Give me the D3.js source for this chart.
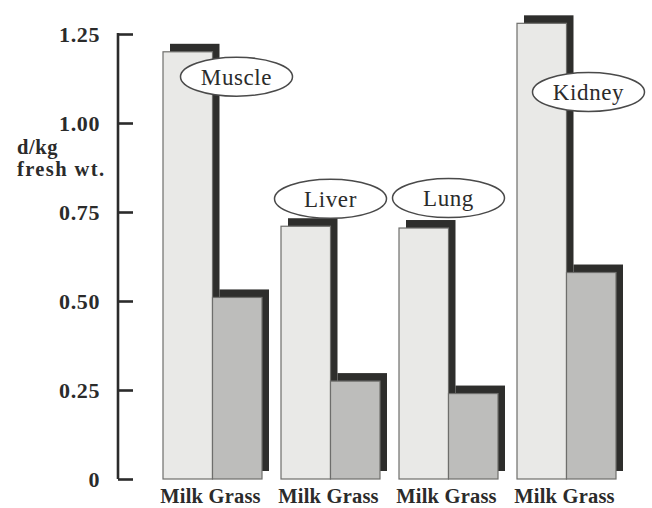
<!DOCTYPE html>
<html>
<head>
<meta charset="utf-8">
<script src="https://cdn.jsdelivr.net/npm/d3@7"></script>
<style>
  html,body{margin:0;padding:0;background:#fff;}
  svg{display:block;}
  text{font-family:"Liberation Serif","Times New Roman",serif;fill:#2b2b2b;}
</style>
</head>
<body>
<svg id="chart" width="652" height="508"></svg>
<script>
// data
const organs = ['Muscle','Liver','Lung','Kidney'];
const series = ['Milk','Grass'];
const milk  = [1.20, 0.71, 0.705, 1.28];
const grass = [0.51, 0.275, 0.24, 0.58];
const yTicks = [0, 0.25, 0.5, 0.75, 1.0, 1.25];
// where each organ's oval label sits (value units, px offset from milk bar right edge)
const labelY  = [1.13, 0.787, 0.789, 1.087];
const labelDx = [24, 0, 0, 22];

const SERIF = '"Liberation Serif","Times New Roman",serif';
const svg = d3.select('#chart');
const y = d3.scaleLinear().domain([0,1.25]).range([479,34]);
const x = d3.scaleBand().domain(organs).range([163,616]).paddingInner(0.161).paddingOuter(0);
const xs = d3.scaleBand().domain(series).range([0, x.bandwidth()]);

const rows = organs.map((o,i)=>({organ:o, i, vals:[milk[i], grass[i]]}));
const SH = {dx:7, dy:-8};
const fills = {Milk:'#e9e9e7', Grass:'#bdbdbb'};

// shadows then bars
const g = svg.append('g');
rows.forEach(r=>{
  series.forEach((s,j)=>{
    g.append('rect')
      .attr('x', x(r.organ)+xs(s)+SH.dx)
      .attr('y', y(r.vals[j])+SH.dy)
      .attr('width', xs.bandwidth())
      .attr('height', y(0)-y(r.vals[j]))
      .attr('fill','#2e2e2c');
  });
});
rows.forEach(r=>{
  series.forEach((s,j)=>{
    g.append('rect')
      .attr('x', x(r.organ)+xs(s))
      .attr('y', y(r.vals[j]))
      .attr('width', xs.bandwidth())
      .attr('height', y(0)-y(r.vals[j]))
      .attr('fill', fills[s])
      .attr('stroke','#6e6e6c')
      .attr('stroke-width',1.2);
  });
});

// axis
const axis = d3.axisLeft(y).tickValues(yTicks).tickSizeInner(-15).tickSizeOuter(0).tickPadding(18)
  .tickFormat(d=> d===0 ? '0' : d3.format('.2f')(d));
const ax = svg.append('g').attr('transform','translate(118,0)').call(axis);
ax.select('.domain').attr('stroke','#2b2b2b').attr('stroke-width',2.6).attr('d',`M0,${y(1.25)-1}V${y(0)}`);
ax.selectAll('.tick line').attr('stroke','#2b2b2b').attr('stroke-width',2.6);
ax.selectAll('.tick text').attr('font-family',SERIF).attr('font-weight','bold')
  .attr('font-size',22).attr('letter-spacing',0.6).attr('fill','#2b2b2b').attr('dy','0.36em');

// y label (two lines)
svg.append('text').attr('x',17).attr('y',154).attr('font-family',SERIF).attr('font-weight','bold')
  .attr('font-size',20.5).attr('letter-spacing',0.6).text('d/kg');
svg.append('text').attr('x',17).attr('y',176).attr('font-family',SERIF).attr('font-weight','bold')
  .attr('font-size',20.5).attr('letter-spacing',1.4).text('fresh wt.');

// category labels
rows.forEach(r=>{
  svg.append('text')
    .attr('x', x(r.organ)+x.bandwidth()/2-2)
    .attr('y', 503)
    .attr('text-anchor','middle')
    .attr('font-family',SERIF)
    .attr('font-weight','bold')
    .attr('font-size',20.5)
    .attr('letter-spacing',0.2)
    .text(series.join(' '));
});

// oval labels
rows.forEach(r=>{
  const cx = x(r.organ)+xs.bandwidth()+labelDx[r.i];
  const cy = y(labelY[r.i]);
  svg.append('ellipse').attr('cx',cx).attr('cy',cy).attr('rx',56).attr('ry',19.5)
    .attr('fill','#fff').attr('stroke','#4a4a4a').attr('stroke-width',1.5);
  svg.append('text').attr('x',cx).attr('y',cy).attr('dy','0.35em')
    .attr('text-anchor','middle').attr('font-family',SERIF)
    .attr('font-size',23).attr('letter-spacing',0.6).text(r.organ);
});
</script>
</body>
</html>
